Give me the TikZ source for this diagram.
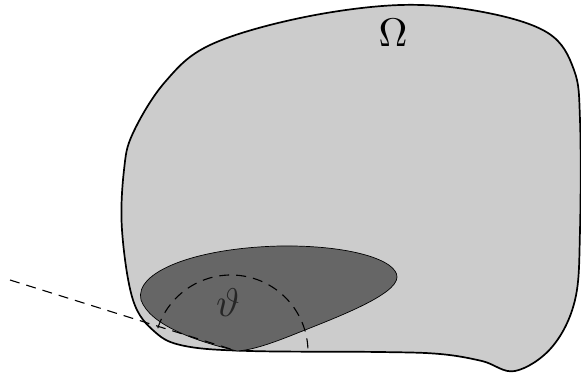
\documentclass[tikz,border=0pt]{standalone}
\usetikzlibrary{positioning}
\definecolor{OmegaGray}{RGB}{204,204,204}
\definecolor{SubGray}{RGB}{102,102,102}
\newcommand{\bigsym}[1]{\scalebox{4}{$#1$}}

\begin{document}
\begin{tikzpicture}[x=1pt,y=-1pt,
    boundary/.style={line width=1.7pt, line join=round},
    subset/.style={line width=0.7pt, fill=SubGray},
    guide/.style={line width=1.1pt, dash pattern=on 10pt off 7pt}]
  \useasboundingbox (0,0) rectangle (581,376);

  % the domain
  \draw[boundary, fill=OmegaGray] plot[smooth cycle, tension=0.6] coordinates {
    (122,230) (124,170) (133,133) (165,82) (210,45) (300,18) (400,5) (483,12)
    (548,33) (574,70) (580,120) (580,230) (575,300) (552,347) (515,371)
    (482,361) (440,354) (380,352) (250,351) (185,346) (155,332) (133,300)};

  % the sub-region with its cusp on the boundary
  \coordinate (cusp) at (237,351);
  \draw[subset] (cusp) .. controls (195,341) and (150,325) .. (141,300)
    .. controls (134,272) and (195,248) .. (280,246)
    .. controls (350,245) and (397,260) .. (397,277)
    .. controls (397,295) and (335,318) .. (295,334)
    .. controls (270,344) and (252,350) .. (cusp);

  % tangent line and half disc
  \coordinate (far) at (10,280);
  \draw[guide] (far) -- (cusp);
  \draw[guide] ([shift={(-162:77)}]231,352) arc[start angle=-162, end angle=2, radius=77];

  \node (omega) at (393,33) {\bigsym{\Omega}};
  \node[text=black!85] (theta) at (228,303) {\bigsym{\vartheta}};
\end{tikzpicture}
\end{document}
